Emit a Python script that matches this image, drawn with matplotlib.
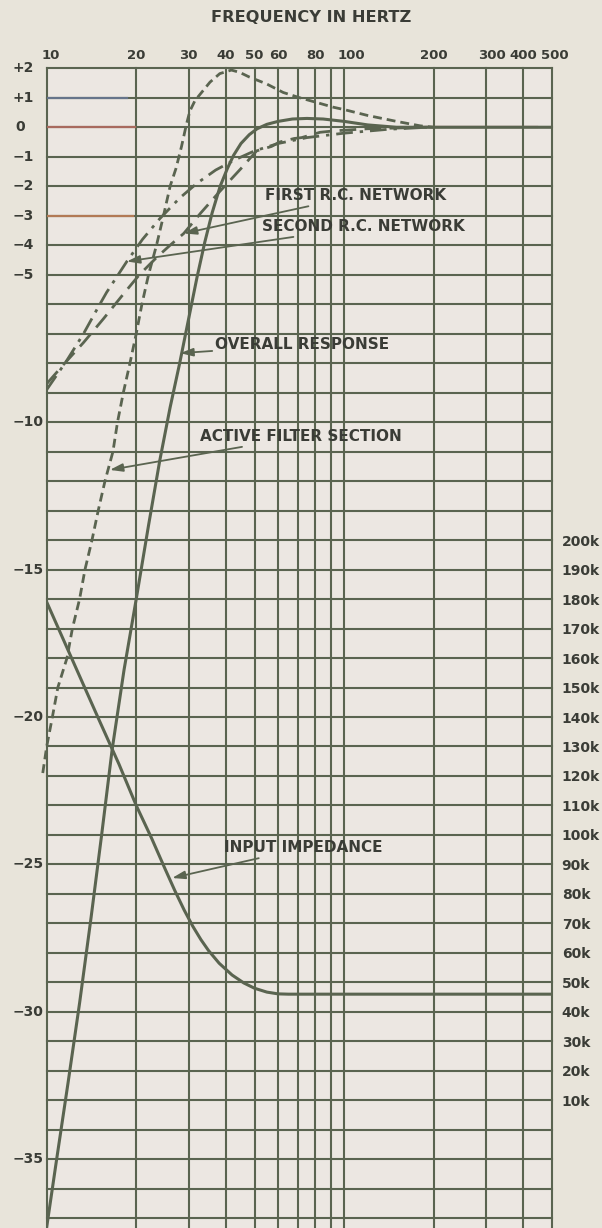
import numpy as np
import matplotlib.pyplot as plt

# frequency grid (Hz) and which lines carry a label on top
grid_freqs = [10, 20, 30, 40, 50, 60, 70, 80, 90, 100, 200, 300, 400, 500]
label_freqs = [10, 20, 30, 40, 50, 60, 80, 100, 200, 300, 400, 500]

db_labels = [2, 1, 0, -1, -2, -3, -4, -5, -10, -15, -20, -25, -30, -35]
z_ticks = [10, 20, 30, 40, 50, 60, 70, 80, 90, 100, 110, 120, 130, 140,
           150, 160, 170, 180, 190, 200]

# overall response (dB)
overall_f = [10.0, 10.8, 11.8, 12.9, 14.1, 15.3, 16.6, 18.2, 20.0, 22.0,
             24.0, 26.0, 28.0, 30.0, 32.0, 34.0, 36.0, 38.3, 40.5, 42.5,
             45.0, 48.0, 51.0, 55.0, 60.0, 67.0, 75.0, 85.0, 100.0, 120.0,
             150.0, 500.0]
overall_db = [-37.3, -35.0, -32.4, -29.7, -26.8, -24.0, -21.1, -18.4, -16.0,
              -13.5, -11.3, -9.5, -8.0, -6.5, -5.1, -3.9, -2.9, -2.0, -1.4,
              -0.95, -0.55, -0.25, -0.05, 0.1, 0.2, 0.28, 0.3, 0.28, 0.2,
              0.08, 0.0, 0.0]

# active filter section (dB)
active_f = [9.7, 10.0, 10.45, 10.9, 11.7, 12.2, 12.9, 13.45, 14.2, 14.9, 15.7,
            16.7, 17.3, 18.1, 19.05, 20.0, 20.9, 22.0, 23.4, 24.7, 26.0, 27.2,
            28.4, 29.5, 30.3, 31.5, 32.8, 35.4, 38.2, 41.8, 44.6, 48.1, 54.9,
            62.4, 71.0, 80.9, 92.0, 100.0, 120.0, 150.0, 180.0, 200.0]
active_db = [-21.9, -21.0, -20.0, -19.0, -18.0, -17.0, -16.0, -15.0, -14.0,
             -13.0, -12.0, -11.0, -10.0, -9.0, -8.0, -7.0, -6.0, -5.0, -4.0,
             -3.0, -2.0, -1.4, -0.65, 0.1, 0.55, 0.9, 1.12, 1.53, 1.82, 1.94,
             1.86, 1.7, 1.47, 1.18, 1.0, 0.84, 0.68, 0.6, 0.4, 0.2, 0.05, 0.0]

# first R.C. network (dB)
rc1_f = [10.0, 11.5, 13.3, 15.5, 18.3, 20.5, 23.5, 26.0, 28.9, 33.0, 38.0,
         45.0, 50.8, 57.0, 60.7, 68.0, 72.0, 83.0, 93.0, 120.0, 190.0]
rc1_db = [-8.7, -8.0, -7.3, -6.5, -5.6, -5.0, -4.4, -4.0, -3.6, -2.9, -2.2,
          -1.4, -0.8, -0.65, -0.5, -0.38, -0.35, -0.17, -0.12, -0.05, 0.0]

# second R.C. network (dB)
rc2_f = [10.0, 11.7, 13.3, 14.9, 15.9, 18.6, 21.0, 24.0, 28.0, 32.0, 37.0,
         43.0, 50.0, 60.0, 75.0, 100.0, 140.0, 190.0]
rc2_db = [-8.9, -7.9, -7.0, -6.1, -5.6, -4.55, -3.8, -3.1, -2.4, -1.9, -1.45,
          -1.1, -0.8, -0.55, -0.35, -0.2, -0.07, 0.0]

# input impedance (k ohm)
imp_f = [10.0, 12.0, 15.0, 17.5, 20.0, 22.5, 25.0, 27.0, 29.0, 31.0, 33.0,
         35.0, 38.0, 42.0, 46.0, 50.0, 55.0, 60.0, 65.0, 100.0, 200.0, 500.0]
imp_k = [179, 161, 139, 124, 110, 99, 88.5, 81, 74.5, 69, 64.5, 60.8, 56.5,
         52.5, 49.8, 48, 46.7, 46.1, 46, 46, 46, 46]

bg = '#e8e4da'
paper = '#ece7e2'
ink = '#5a6450'
txt = '#3a3c36'
font = ['DejaVu Sans']

fig = plt.figure(figsize=(6.02, 12.28), dpi=100)
fig.patch.set_facecolor(bg)
ax = fig.add_axes([46.7 / 602, 0.0, (552 - 46.7) / 602, 1159.7 / 1228])
ax.set_facecolor(paper)
ax.set_xscale('log')
ax.set_xlim(10, 500)
ax.set_ylim(-37.33, 2)
for s in ax.spines.values():
    s.set_visible(False)
ax.set_xticks([])
ax.set_yticks([])
ax.minorticks_off()

# grid
for f in grid_freqs:
    ax.axvline(f, color=ink, lw=1.5, clip_on=False, zorder=1)
for d in range(-37, 3):
    ax.axhline(d, color=ink, lw=1.5, clip_on=False, zorder=1)
# off-register colour on a few printed rules
ax.plot([10, 19.5], [-3, -3], color='#b27a55', lw=1.6, zorder=1.5)
ax.plot([10, 19.8], [0, 0], color='#a86a5e', lw=1.6, zorder=1.5)
ax.plot([185, 445], [0, 0], color='#a86a5e', lw=1.6, zorder=1.5)
ax.plot([10, 18.6], [1, 1], color='#66748a', lw=1.6, zorder=1.5)

lw = 2.0
ax.plot(overall_f, overall_db, color=ink, lw=2.2, zorder=3)
ax.plot(active_f, active_db, color=ink, lw=lw, dashes=(3.2, 1.8),
        clip_on=False, zorder=3)
ax.plot(rc1_f, rc1_db, color=ink, lw=lw, dashes=(6, 3), zorder=3)
ax.plot(rc2_f, rc2_db, color=ink, lw=lw, dashes=(6, 2.5, 1.2, 2.5), zorder=3)

az = ax.twinx()
az.set_ylim((-37.33 + 34) * 10, (2 + 34) * 10)
for s in az.spines.values():
    s.set_visible(False)
az.plot(imp_f, imp_k, color=ink, lw=2.2, zorder=3)
az.set_yticks(z_ticks)
az.set_yticklabels([f'{z}k' for z in z_ticks])
az.tick_params(axis='y', length=0, pad=7, labelsize=10, labelcolor=txt)
for t in az.get_yticklabels():
    t.set_fontweight('bold')
    t.set_family(font)

# left dB labels, left aligned
for d in db_labels:
    s = '0' if d == 0 else (f'+{d}' if d > 0 else f'\u2212{-d}')
    x = -0.062 if d == 0 else -0.068
    ax.text(x, d, s, transform=ax.get_yaxis_transform(), ha='left',
            va='center', fontsize=10, fontweight='bold', color=txt,
            family=font)

# frequency labels across the top
nudge = {10: 10.3, 100: 106, 300: 313, 500: 512}
for f in label_freqs:
    ax.text(nudge.get(f, f), 2.22, str(f), ha='center', va='bottom',
            fontsize=9.5, fontweight='bold', color=txt, family=font)

fig.text(311 / 602, 1 - 18 / 1228, 'FREQUENCY IN HERTZ', ha='center',
         va='center', fontsize=11.7, fontweight='bold', color=txt,
         family=font)

# callouts
arrow = dict(arrowstyle='-|>,head_length=0.7,head_width=0.22', color=ink,
             lw=1.3, shrinkA=0, shrinkB=0)
notes = [
    ('FIRST R.C. NETWORK', (54.2, -2.33), (28.9, -3.6)),
    ('SECOND R.C. NETWORK', (52.9, -3.37), (18.6, -4.55)),
    ('OVERALL RESPONSE', (36.8, -7.38), (28.1, -7.66)),
    ('ACTIVE FILTER SECTION', (32.8, -10.49), (16.3, -11.62)),
    ('INPUT IMPEDANCE', (39.6, -24.44), (26.4, -25.46)),
]
for label, xy_text, xy_tip in notes:
    ax.annotate(label, xy=xy_tip, xytext=xy_text, ha='left', va='center',
                fontsize=11, fontweight='bold', color=txt, family=font,
                arrowprops=arrow, zorder=4)

fig.savefig('out.png', dpi=100, facecolor=bg)
